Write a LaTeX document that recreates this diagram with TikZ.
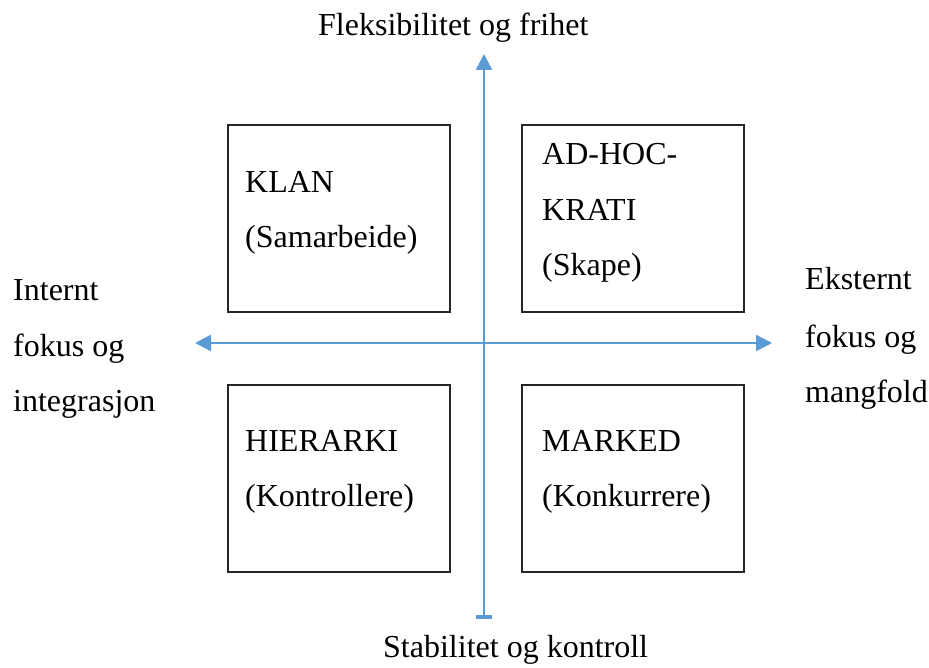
\documentclass[tikz,border=0pt]{standalone}
\usepackage{fontspec}
\setmainfont{Liberation Serif}
\usetikzlibrary{arrows.meta}
\definecolor{axisblue}{HTML}{5B9BD5}
\begin{document}
\begin{tikzpicture}[x=1pt,y=-1pt,
  lbl/.style={anchor=base west,inner sep=0pt,font=\fontsize{32}{40}\selectfont},
  quad/.style={draw=black!85,line width=1.6pt,anchor=north west,inner sep=0pt,minimum width=222pt,minimum height=187pt},
  axisline/.style={draw=axisblue,line width=2.6pt}]
\useasboundingbox (0,0) rectangle (929,668);
% boxes
\node[quad] (klan) at (227,124) {};
\node[quad] (adhoc) at (521,124) {};
\node[quad] (hier) at (227,384) {};
\node[quad] (marked) at (521,384) {};
% axes
\coordinate (vtop) at (484,54);
\coordinate (vbot) at (484,619);
\coordinate (hleft) at (195,343);
\coordinate (hright) at (772,343);
\draw[axisline,{Rectangle[length=4pt,width=16pt]}-{Triangle[length=16pt,width=16pt]}] (vbot) -- (vtop);
\draw[axisline,{Triangle[length=16pt,width=16pt]}-{Triangle[length=16pt,width=16pt]}] (hleft) -- (hright);
% box texts
\node[lbl] (t1) at (245,193) {KLAN};
\node[lbl] (t2) at (245,248) {(Samarbeide)};
\node[lbl] (t3) at (542,165) {AD-HOC-};
\node[lbl] (t4) at (542,221) {KRATI};
\node[lbl] (t5) at (542,276) {(Skape)};
\node[lbl] (t6) at (245,451) {HIERARKI};
\node[lbl] (t7) at (245,506) {(Kontrollere)};
\node[lbl] (t8) at (542,451) {MARKED};
\node[lbl] (t9) at (542,506) {(Konkurrere)};
% axis labels
\node[lbl] (top) at (318,36) {Fleksibilitet og frihet};
\node[lbl] (bot) at (383,657) {Stabilitet og kontroll};
\node[lbl] (l1) at (13,301) {Internt};
\node[lbl] (l2) at (13,356) {fokus og};
\node[lbl] (l3) at (13,411) {integrasjon};
\node[lbl] (r1) at (805,290) {Eksternt};
\node[lbl] (r2) at (805,347) {fokus og};
\node[lbl] (r3) at (805,402) {mangfold};
\end{tikzpicture}
\end{document}
